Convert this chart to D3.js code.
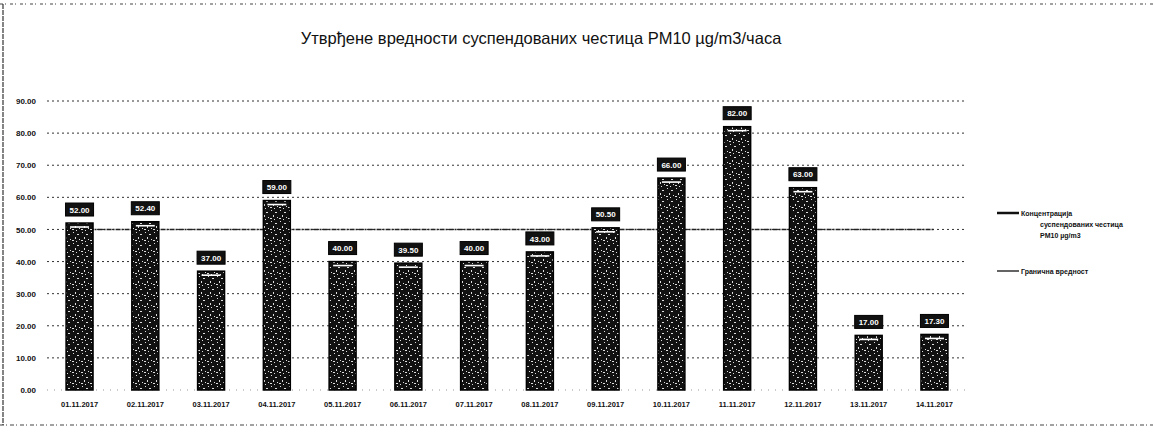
<!DOCTYPE html>
<html>
<head>
<meta charset="utf-8">
<script src="https://cdn.jsdelivr.net/npm/d3@7"></script>
<style>
  body { margin: 0; background: #fff; }
  svg { display: block; font-family: "Liberation Sans", "DejaVu Sans", sans-serif; }
</style>
</head>
<body>
<div class="container"></div>
<script>
// chart data
var dates = ["01.11.2017", "02.11.2017", "03.11.2017", "04.11.2017", "05.11.2017", "06.11.2017", "07.11.2017",
             "08.11.2017", "09.11.2017", "10.11.2017", "11.11.2017", "12.11.2017", "13.11.2017", "14.11.2017"];
var pm10 = [52.00, 52.40, 37.00, 59.00, 40.00, 39.50, 40.00, 43.00, 50.50, 66.00, 82.00, 63.00, 17.00, 17.30];
var limitValue = [50, 50, 50, 50, 50, 50, 50, 50, 50, 50, 50, 50, 50, 50];
var yTicks = [0, 10, 20, 30, 40, 50, 60, 70, 80, 90];

var titleText = "Утврђене вредности суспендованих честица PM10 µg/m3/часа";
var legendBars = ["Концентрација", "суспендованих честица", "PM10 µg/m3"];
var legendLimit = "Гранична вредност";

var w = 1153;
var h = 434;

var svg = d3.select(".container")
    .append("svg")
    .attr("width", w)
    .attr("height", h);

// speckled fill like the scanned bars
var defs = svg.append("defs");
var pat = defs.append("pattern")
    .attr("id", "speck")
    .attr("patternUnits", "userSpaceOnUse")
    .attr("width", 9)
    .attr("height", 11);
pat.append("rect").attr("width", 9).attr("height", 11).attr("fill", "#111");
[[1,1,1,1],[5,3,2,1],[3,6,1,2],[7,8,1,1],[0,9,2,1],[4,10,1,1]].forEach(function(s){
  pat.append("rect").attr("x", s[0]).attr("y", s[1]).attr("width", s[2]).attr("height", s[3]).attr("fill", "#ddd");
});

// dotted frame of the scanned page
svg.append("line").attr("x1", 0).attr("x2", w).attr("y1", 4).attr("y2", 4)
    .attr("stroke", "#444").attr("stroke-width", 1).attr("stroke-dasharray", "3,2,1,4");
svg.append("line").attr("x1", 0).attr("x2", w).attr("y1", 425).attr("y2", 425)
    .attr("stroke", "#444").attr("stroke-width", 1).attr("stroke-dasharray", "4,2,1,3");
svg.append("line").attr("x1", 3).attr("x2", 3).attr("y1", 4).attr("y2", 425)
    .attr("stroke", "#333").attr("stroke-width", 1.2).attr("stroke-dasharray", "5,1");

var x = d3.scaleBand()
    .domain(dates)
    .range([47, 967])
    .paddingInner(0.59)
    .paddingOuter(0.29);

var y = d3.scaleLinear()
    .domain([0, 90])
    .range([390, 101]);

// title
svg.append("text")
    .attr("x", 541)
    .attr("y", 44)
    .attr("text-anchor", "middle")
    .attr("font-size", "16.5px")
    .attr("fill", "#111")
    .text(titleText);

// gridlines
svg.append("g")
    .attr("class", "grid")
    .selectAll("line")
    .data(yTicks.filter(function(d){ return d > 0; }))
    .enter().append("line")
    .attr("x1", 47)
    .attr("x2", 967)
    .attr("y1", function(d){ return y(d); })
    .attr("y2", function(d){ return y(d); })
    .attr("stroke", "#333")
    .attr("stroke-width", 1)
    .attr("stroke-dasharray", "2,3");

// y axis labels
var yAxis = svg.append("g")
    .attr("transform", "translate(38,0)")
    .call(d3.axisLeft(y).tickValues(yTicks).tickFormat(d3.format(".2f")).tickSize(0).tickPadding(2));
yAxis.select(".domain").remove();
yAxis.selectAll("text")
    .attr("font-size", "8px")
    .attr("font-weight", "bold")
    .attr("fill", "#111");

// baseline
svg.append("line")
    .attr("x1", 47).attr("x2", 967)
    .attr("y1", y(0)).attr("y2", y(0))
    .attr("stroke", "#555").attr("stroke-width", 0.6).attr("stroke-dasharray", "1,6");

// limit line, drawn behind the bars
svg.append("path")
    .datum(limitValue)
    .attr("fill", "none")
    .attr("stroke", "#222")
    .attr("stroke-width", 1.4)
    .attr("stroke-dasharray", "5,1,2,1")
    .attr("d", d3.line()
        .x(function(d, i){ return x(dates[i]) + x.bandwidth() / 2; })
        .y(function(d){ return y(d); }));

// bars
var bars = svg.append("g").selectAll(".bar")
    .data(pm10)
    .enter().append("g")
    .attr("class", "bar");

bars.append("rect")
    .attr("x", function(d, i){ return x(dates[i]); })
    .attr("y", function(d){ return y(d); })
    .attr("width", x.bandwidth())
    .attr("height", function(d){ return y(0) - y(d); })
    .attr("fill", "url(#speck)")
    .attr("stroke", "#000")
    .attr("stroke-width", 1.5);

bars.append("line")
    .attr("x1", function(d, i){ return x(dates[i]) + 4; })
    .attr("x2", function(d, i){ return x(dates[i]) + x.bandwidth() - 4; })
    .attr("y1", function(d){ return y(d) + 4; })
    .attr("y2", function(d){ return y(d) + 4; })
    .attr("stroke", "#fff")
    .attr("stroke-width", 1.6);

// data labels
var labels = svg.append("g").selectAll(".lbl")
    .data(pm10)
    .enter().append("g")
    .attr("class", "lbl")
    .attr("transform", function(d, i){
      return "translate(" + (x(dates[i]) + x.bandwidth() / 2) + "," + (y(d) - 13) + ")";
    });

labels.append("rect")
    .attr("x", -14)
    .attr("y", -7)
    .attr("width", 28)
    .attr("height", 13)
    .attr("fill", "#111")
    .attr("stroke", "#000");

labels.append("text")
    .attr("text-anchor", "middle")
    .attr("dy", "0.33em")
    .attr("font-size", "8px")
    .attr("font-weight", "bold")
    .attr("fill", "#fff")
    .text(function(d){ return d3.format(".2f")(d); });

// x axis labels
svg.append("g").selectAll(".xl")
    .data(dates)
    .enter().append("text")
    .attr("x", function(d){ return x(d) + x.bandwidth() / 2; })
    .attr("y", 407)
    .attr("text-anchor", "middle")
    .attr("font-size", "7.5px")
    .attr("font-weight", "bold")
    .attr("fill", "#111")
    .text(function(d){ return d; });

// legend
var legend = svg.append("g").attr("class", "legend");

legend.append("line")
    .attr("x1", 997).attr("x2", 1019)
    .attr("y1", 213).attr("y2", 213)
    .attr("stroke", "#111").attr("stroke-width", 2.5);

legend.selectAll(".lb")
    .data(legendBars)
    .enter().append("text")
    .attr("x", function(d, i){ return i === 0 ? 1021 : 1040; })
    .attr("y", function(d, i){ return 216 + i * 11; })
    .attr("font-size", "7px")
    .attr("font-weight", "bold")
    .attr("fill", "#111")
    .text(function(d){ return d; });

legend.append("line")
    .attr("x1", 997).attr("x2", 1019)
    .attr("y1", 271).attr("y2", 271)
    .attr("stroke", "#222").attr("stroke-width", 1.4);

legend.append("text")
    .attr("x", 1021)
    .attr("y", 274)
    .attr("font-size", "7px")
    .attr("font-weight", "bold")
    .attr("fill", "#111")
    .text(legendLimit);
</script>
</body>
</html>
